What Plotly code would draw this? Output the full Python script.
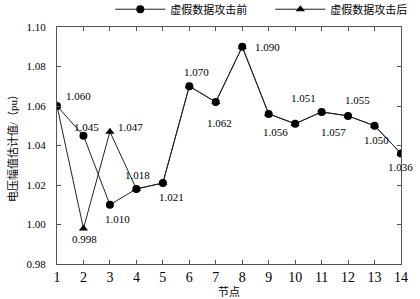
import plotly.graph_objects as go

nodes = list(range(1, 15))
before_attack = [1.060, 1.045, 1.010, 1.018, 1.021, 1.070, 1.062, 1.090, 1.056, 1.051, 1.057, 1.055, 1.050, 1.036]
after_attack = [1.060, 0.998, 1.047, 1.018, 1.021, 1.070, 1.062, 1.090, 1.056, 1.051, 1.057, 1.055, 1.050, 1.036]
series_names = ["虚假数据攻击前", "虚假数据攻击后"]
y_ticks = [0.98, 1.00, 1.02, 1.04, 1.06, 1.08, 1.10]

FONT = "Liberation Serif, Times New Roman, Noto Sans CJK SC, serif"

fig = go.Figure()
fig.add_trace(go.Scatter(x=nodes, y=after_attack, mode="lines+markers", name=series_names[1],
                         line=dict(color="#222", width=1),
                         marker=dict(symbol="triangle-up", size=8, color="#000")))
fig.add_trace(go.Scatter(x=nodes, y=before_attack, mode="lines+markers", name=series_names[0],
                         line=dict(color="#222", width=1),
                         marker=dict(symbol="circle", size=8, color="#000")))

# label placement (pixel offsets) for each annotated value
label_pos = {
    ("b", 1): (21, 10), ("b", 2): (3, 9), ("b", 3): (8, -14), ("b", 4): (1, 14),
    ("b", 5): (9, -14), ("b", 6): (7, 14), ("b", 7): (4, -21), ("b", 8): (25, 0),
    ("b", 9): (7, -18), ("b", 10): (8, 26), ("b", 11): (12, -20), ("b", 12): (9, 16),
    ("b", 13): (2, -14), ("b", 14): (-1, -14),
    ("a", 2): (1.5, -11), ("a", 3): (21, 5),
}
for (s, n), (dx, dy) in label_pos.items():
    vals = before_attack if s == "b" else after_attack
    v = vals[n - 1]
    fig.add_annotation(x=n, y=v, text=f"{v:.3f}", showarrow=False, xshift=dx, yshift=dy,
                       font=dict(family=FONT, size=11, color="#000"))

axis_common = dict(showline=True, linecolor="#555", linewidth=1, mirror="ticks",
                   ticks="inside", ticklen=4, tickcolor="#555", showgrid=False, zeroline=False,
                   automargin=False)

fig.update_layout(
    width=420, height=299,
    margin=dict(l=57, r=19, t=27, b=35, autoexpand=False),
    paper_bgcolor="white", plot_bgcolor="white",
    font=dict(family=FONT, color="#000"),
    showlegend=True,
    legend=dict(orientation="h", x=0.155, xanchor="left", y=1.075, yanchor="middle",
                traceorder="reversed", font=dict(size=11, family=FONT),
                itemwidth=50, entrywidth=95, entrywidthmode="pixels",
                bgcolor="rgba(0,0,0,0)"),
    xaxis=dict(range=[1, 14], tickvals=nodes, tickfont=dict(size=14, family=FONT),
               title=dict(text="节点", font=dict(size=11, family=FONT), standoff=4),
               **axis_common),
    yaxis=dict(range=[0.98, 1.10], tickvals=y_ticks, ticktext=[f"{t:.2f}" for t in y_ticks],
               tickfont=dict(size=11, family=FONT), ticklabelstandoff=8,
               title=dict(text="电压幅值估计值/（pu）", font=dict(size=11, family=FONT), standoff=6),
               **axis_common),
)

fig.write_html("out.html", config={"displayModeBar": False},
               post_script="document.body.style.margin='0';document.body.style.overflow='hidden';")
